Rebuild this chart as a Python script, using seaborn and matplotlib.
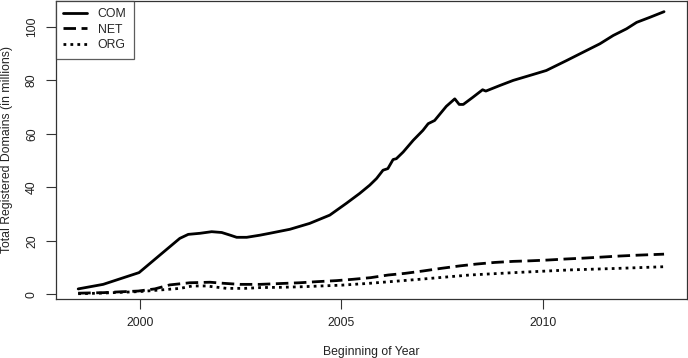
import pandas as pd
import seaborn as sns
import matplotlib.pyplot as plt

# values (year, millions of domains)
com_year = [1998.47, 1999.09, 1999.98, 2000.5, 2000.99, 2001.2, 2001.49, 2001.78, 2002.03,
            2002.24, 2002.4, 2002.65, 2002.98, 2003.22, 2003.72, 2004.21, 2004.71, 2005.12,
            2005.45, 2005.7, 2005.87, 2006.03, 2006.15, 2006.28, 2006.36, 2006.53, 2006.78,
            2007.02, 2007.15, 2007.31, 2007.6, 2007.81, 2007.92, 2008.02, 2008.26, 2008.5,
            2008.58, 2008.93, 2009.26, 2009.75, 2010.08, 2010.58, 2011.08, 2011.41, 2011.74,
            2012.07, 2012.32, 2012.65, 2013.0]
com_val = [2.0, 3.7, 8.1, 14.7, 20.9, 22.4, 22.8, 23.4, 23.1,
           22.1, 21.3, 21.3, 22.1, 22.8, 24.3, 26.5, 29.6, 34.0,
           37.7, 40.8, 43.3, 46.4, 47.0, 50.4, 50.7, 53.2, 57.6,
           61.3, 63.8, 65.0, 70.3, 73.1, 71.0, 71.0, 73.7, 76.5,
           76.0, 78.1, 80.0, 82.2, 83.7, 87.4, 91.2, 93.7, 96.8,
           99.3, 101.7, 103.6, 105.7]

net_year = [1998.47, 1999.1, 1999.5, 1999.96, 2000.37, 2000.74, 2001.24, 2001.74, 2002.07,
            2002.48, 2002.98, 2003.47, 2003.97, 2004.38, 2004.88, 2005.29, 2005.72, 2006.16,
            2006.57, 2007.02, 2007.48, 2007.93, 2008.35, 2008.8, 2009.26, 2009.67, 2010.12,
            2010.58, 2010.99, 2011.45, 2011.9, 2012.32, 2013.0]
net_val = [0.4, 0.6, 0.9, 1.2, 2.0, 3.5, 4.3, 4.5, 4.1,
           3.7, 3.7, 4.0, 4.3, 4.7, 5.1, 5.6, 6.2, 7.2,
           7.8, 8.7, 9.7, 10.6, 11.3, 11.9, 12.3, 12.5, 12.8,
           13.2, 13.5, 13.9, 14.3, 14.6, 15.0]

org_year = [1998.47, 1999.0, 2000.0, 2000.5, 2001.0, 2001.3, 2001.65, 2002.15, 2002.6,
            2003.0, 2003.5, 2004.0, 2004.5, 2005.0, 2005.7, 2006.94, 2008.18, 2009.42,
            2010.66, 2011.9, 2013.0]
org_val = [0.2, 0.4, 1.0, 1.6, 2.2, 3.1, 3.1, 2.2, 2.2,
           2.5, 2.6, 2.8, 3.1, 3.4, 4.1, 5.6, 7.2, 8.2,
           9.1, 9.7, 10.3]

df = pd.concat([
    pd.DataFrame({"year": com_year, "domains": com_val, "tld": "COM"}),
    pd.DataFrame({"year": net_year, "domains": net_val, "tld": "NET"}),
    pd.DataFrame({"year": org_year, "domains": org_val, "tld": "ORG"}),
], ignore_index=True)

sns.set_theme(style="ticks")
plt.rcParams["font.family"] = ["Liberation Sans", "DejaVu Sans"]

fig = plt.figure(figsize=(6.88, 3.58), dpi=100)
ax = fig.add_axes([0.0814, 0.165, 0.9172, 0.833])

sns.lineplot(data=df, x="year", y="domains", style="tld", color="black", linewidth=2,
             dashes={"COM": "", "NET": (4.5, 2), "ORG": (1, 1.5)}, ax=ax)

ax.set_xlim(1997.92, 2013.57)
ax.set_ylim(-1.75, 109.8)
ax.set_xticks([2000, 2005, 2010])
ax.set_yticks([0, 20, 40, 60, 80, 100])
ax.tick_params(axis="both", direction="out", length=7, width=0.8, color="#333333",
               labelsize=8.8, labelcolor="#222222", pad=6)
for lab in ax.get_yticklabels():
    lab.set_rotation(90)
    lab.set_va("center")
for sp in ax.spines.values():
    sp.set_visible(True)
    sp.set_color("#333333")
    sp.set_linewidth(0.9)

ax.set_xlabel("Beginning of Year", fontsize=8.8, color="#222222", va="center")
ax.set_ylabel("Total Registered Domains (in millions)", fontsize=8.8, color="#222222", va="center")
ax.xaxis.set_label_coords(0.5, -0.177)
ax.yaxis.set_label_coords(-0.077, 0.5)

handles, labels = ax.get_legend_handles_labels()
leg = ax.legend(handles, labels, loc="upper left", bbox_to_anchor=(0, 1), frameon=True,
                fancybox=False, edgecolor="#333333", fontsize=8.8, handlelength=1.9,
                borderaxespad=0, borderpad=0.6, labelspacing=0.3, handletextpad=0.9)
leg.get_frame().set_linewidth(0.9)

fig.savefig("out.png", dpi=100)
